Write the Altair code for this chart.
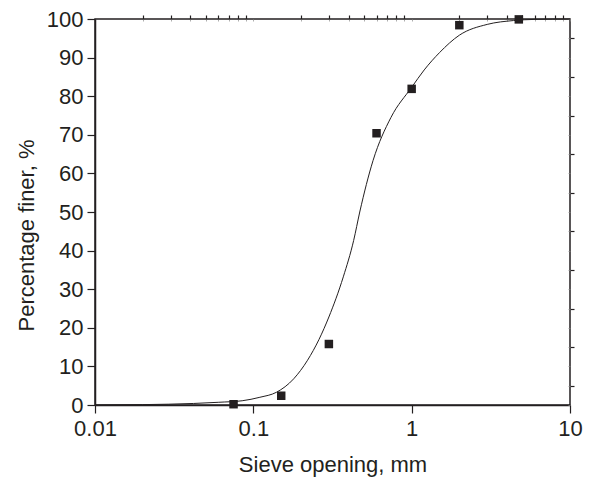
import altair as alt
import pandas as pd

# measured sieve data
sieve_mm = [0.075, 0.15, 0.3, 0.6, 1.0, 2.0, 4.75]
finer_pct = [0.2, 2.4, 15.8, 70.4, 81.9, 98.4, 99.9]

# fitted curve
curve_x = [0.01, 0.02, 0.042, 0.06, 0.085, 0.11, 0.14, 0.18, 0.22, 0.26, 0.3,
           0.37, 0.43, 0.47, 0.57, 0.74, 1.0, 1.2, 1.5, 2.0, 3.0, 4.4, 6.0, 10.0]
curve_y = [0.0, 0.1, 0.4, 0.7, 1.1, 2.0, 3.3, 6.8, 11.6, 17.0, 22.8,
           33.2, 42.6, 50.0, 63.3, 74.5, 82.3, 86.8, 91.3, 95.8, 98.6, 99.6, 99.9, 100.0]

x_major = [0.01, 0.1, 1, 10]
x_minor = [0.02, 0.03, 0.04, 0.05, 0.06, 0.07, 0.08, 0.09,
           0.2, 0.3, 0.4, 0.5, 0.6, 0.7, 0.8, 0.9,
           2, 3, 4, 5, 6, 7, 8, 9]
y_major = list(range(0, 101, 10))
y_minor = list(range(5, 100, 10))

pts = pd.DataFrame({"x": sieve_mm, "y": finer_pct})
crv = pd.DataFrame({"x": curve_x, "y": curve_y})

INK = "#231f20"
FONT = "Liberation Sans"

xscale = alt.Scale(type="log", domain=[0.01, 10])
yscale = alt.Scale(domain=[0, 100])

# main line with major axes (labels + titles)
line = alt.Chart(crv).mark_line(color=INK, strokeWidth=1, interpolate="monotone").encode(
    x=alt.X("x:Q", scale=xscale, axis=alt.Axis(
        values=x_major,
        labelExpr="format(datum.value, '~g')",
        tickSize=8,
        title="Sieve opening, mm",
        grid=False,
        labelFlush=False,
        labelOverlap=False,
        labelPadding=5,
        titleBaseline="alphabetic",
        titleY=66,
    )),
    y=alt.Y("y:Q", scale=yscale, axis=alt.Axis(
        values=y_major,
        tickSize=8,
        title="Percentage finer, %",
        grid=False,
        labelOverlap=False,
        labelFlush=False,
        labelPadding=4,
        titleBaseline="alphabetic",
        titleX=-62,
        titleY=216,
        titleAlign="center",
    )),
)

# data points with minor ticks on bottom/left
points = alt.Chart(pts).mark_point(shape="square", filled=True, color=INK, size=72, opacity=1).encode(
    x=alt.X("x:Q", scale=xscale, axis=alt.Axis(
        values=x_minor, labels=False, tickSize=4, domain=False, grid=False, title=None)),
    y=alt.Y("y:Q", scale=yscale, axis=alt.Axis(
        values=y_minor, labels=False, tickSize=4, domain=False, grid=False, title=None)),
)

# invisible layer carrying tiny inward ticks on top/right
mirror = alt.Chart(pts).mark_point(opacity=0).encode(
    x=alt.X("x:Q", scale=xscale, axis=alt.Axis(
        orient="top", values=x_major + x_minor, labels=False, tickSize=2, offset=-2,
        domain=False, grid=False, title=None, tickWidth=0.7, tickColor="#8a8a8a")),
    y=alt.Y("y:Q", scale=yscale, axis=alt.Axis(
        orient="right", values=y_major + y_minor, labels=False, tickSize=2, offset=-2,
        domain=False, grid=False, title=None, tickWidth=0.7, tickColor="#8a8a8a")),
)

chart = (
    alt.layer(line, points, mirror)
    .resolve_axis(x="independent", y="independent")
    .properties(
        width=475,
        height=386,
        autosize=alt.AutoSizeParams(type="none"),
        padding={"left": 87, "top": 11, "right": 15, "bottom": 74},
        background="white",
    )
    .configure_view(stroke=INK, strokeWidth=1.5)
    .configure_axis(
        domainColor=INK,
        domainWidth=1.5,
        tickColor=INK,
        tickWidth=1.2,
        labelColor=INK,
        titleColor=INK,
        labelFont=FONT,
        titleFont=FONT,
        labelFontSize=22,
        titleFontSize=22,
        titleFontWeight="normal",
    )
)

chart.save("out.html", embed_options={"renderer": "svg", "actions": False})
